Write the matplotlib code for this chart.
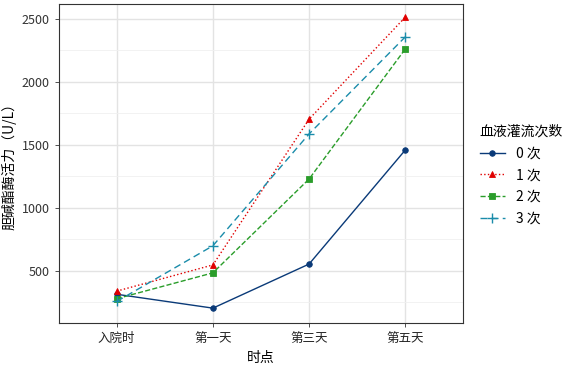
import numpy as np
import matplotlib.pyplot as plt
from matplotlib.ticker import MultipleLocator

plt.rcParams['font.family'] = ['Noto Sans CJK SC', 'DejaVu Sans']

timepoints = ['入院时', '第一天', '第三天', '第五天']
groups = ['0 次', '1 次', '2 次', '3 次']
v0 = [315, 205, 555, 1460]
v1 = [340, 548, 1705, 2515]
v2 = [280, 485, 1230, 2262]
v3 = [258, 700, 1588, 2358]

colors = ['#0A3A78', '#E00000', '#2A9D2A', '#1A8CAA']
styles = ['-', ':', '--', (0, (5, 3))]
markers = ['o', '^', 's', '+']
msizes = [4, 5, 4.5, 7]

fig = plt.figure(figsize=(5.87, 3.71), dpi=100)
ax = fig.add_axes([59 / 587, 48 / 371, 404 / 587, 319 / 371])

x = np.arange(len(timepoints))
for vals, c, ls, m, ms, lab in zip([v0, v1, v2, v3], colors, styles, markers, msizes, groups):
    ax.plot(x, vals, color=c, linestyle=ls, marker=m, markersize=ms,
            linewidth=1.0, label=lab, markeredgewidth=1.0 if m == '+' else 0.6)

ax.set_xlim(-0.6, 3.6)
ax.set_ylim(87, 2619)
ax.set_xticks(x)
ax.set_xticklabels(timepoints, fontsize=9, color='#222222')
ax.yaxis.set_major_locator(MultipleLocator(500))
ax.yaxis.set_minor_locator(MultipleLocator(250))
ax.tick_params(axis='y', labelsize=9, labelcolor='#333333', length=3, width=0.6, color='#333333')
ax.tick_params(axis='x', length=3, width=0.6, color='#333333')
ax.tick_params(which='minor', length=0)
ax.grid(True, which='major', color='#E3E3E3', linewidth=1.0)
ax.grid(True, which='minor', color='#F0F0F0', linewidth=0.6)
ax.set_axisbelow(True)
for s in ax.spines.values():
    s.set_color('#333333')
    s.set_linewidth(0.8)

ax.set_xlabel('时点', fontsize=10)
ax.set_ylabel('胆碱酯酶活力（U/L）', fontsize=10)

leg = ax.legend(title='血液灌流次数', loc='upper left', bbox_to_anchor=(1.01, 0.66),
                frameon=False, fontsize=10, title_fontsize=10, handlelength=1.8,
                labelspacing=0.55, alignment='left')

fig.savefig('out.png', dpi=100)
